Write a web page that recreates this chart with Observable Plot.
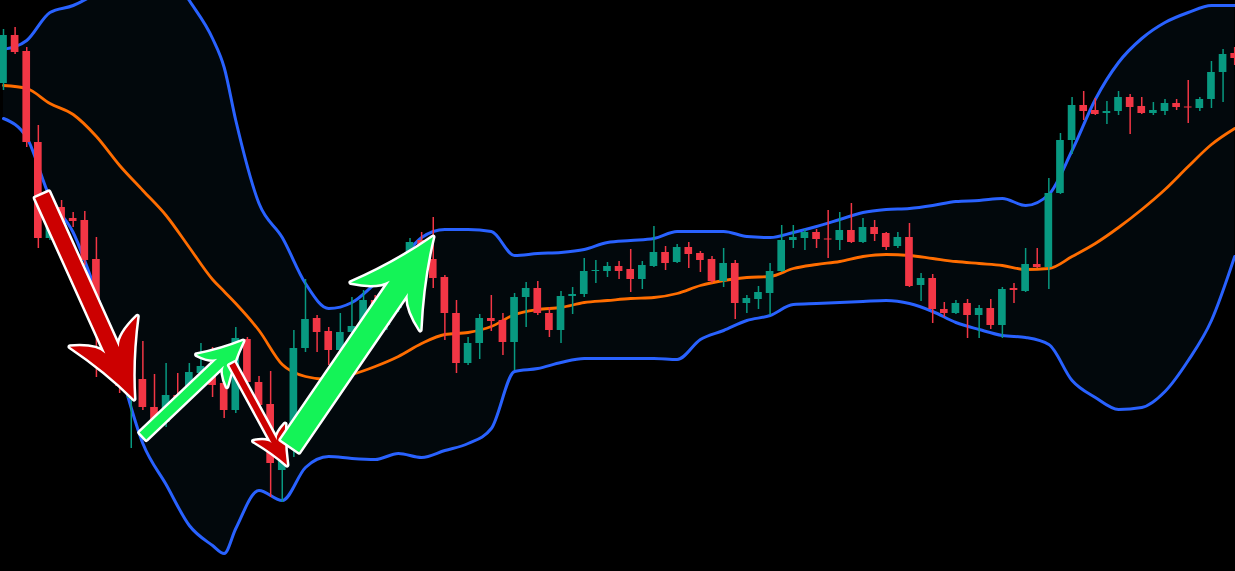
<!DOCTYPE html>
<html><head><meta charset="utf-8">
<script src="https://cdn.jsdelivr.net/npm/d3@7"></script>
<script src="https://cdn.jsdelivr.net/npm/@observablehq/plot@0.6"></script>
<style>html,body{margin:0;padding:0;background:#000;overflow:hidden;} #chart svg{display:block;}</style>
</head><body><div id="chart"></div>
<script>
// Candles (price units)
const opens  = [517,565,549,458,362,393,382,380,341,270,220,202,221,193,178,205,208,227,227,217,190,261,218,196,130,170,252,282,269,250,268,277,300,275,292,315,360,341,323,287,237,257,282,280,258,303,312,287,270,304,306,329,329,334,331,321,334,348,338,353,347,341,319,337,297,301,307,329,360,362,368,361.5,360,370,358,373,367,354,363,315,322,291,287,297,285,292,275,312,309,336,333,407,460,495,490,487,489,503,494,487,489,497,493.5,492,501,528,547];
const closes = [565,548,458,362,387,378,379,340,270,248,214,204,193,173,205,202,228,234,215,190,262,218,195,137,142,252,281,268,250,268,274,300,293,295,315,358,348,322,287,237,257,282,279,258,303,312,287,270,304,306,329,330,334,329,321,335,348,337,353,346,340,319,337,297,302,308,329,360,363,368,361,360.5,370,358,373,366,353,363,314,322,291,287,297,285,292,275,311,310,336,333,407,460,495,489,486,489,503,493,487,490,497,493,492.5,501,528,546,542];
const highs  = [571,573,553,475,392,400,388,389,363,278,235,205,259,226,237,227,237,257,253,240,273,263,224,229,145,270,321,285,273,287,303,310,305,302,318,362,368,383,325,300,263,286,305,287,307,318,319,293,309,313,342,340,338,339,351,339,374,354,356,358,349,344,352,340,305,314,337,375,375,371,371,390,388,397,382,380,368,368,377,327,326,298,300,301,295,301,313,317,352,352,422,467,503,509,502,499,509,506,503,498,501,501,520,503,539,551,553];
const lows   = [510,546,453,352,360,368,373,335,223,228,207,152,190,170,173,201,200,222,203,182,187,215,190,103,98,143,248,248,235,245,260,270,285,270,288,312,338,312,260,227,235,241,269,245,230,273,285,263,257,286,303,317,323,321,308,311,333,330,337,332,328,317,313,281,287,291,285,328,352,350,352,342,350,357,357,359,350,352,313,299,277,283,286,262,262,271,262,297,308,332,311,406,446,480,485,476,485,466,486,485,485,490,477,489,492,498,535];

// Bollinger bands sampled at candle positions
const bandIdx = [0,2,4,6,8,10,12,14,16,18,19,20,22,24,26,28,30,32,34,36,38,40,42,44,46,48,50,52,54,56,58,60,62,64,66,68,70,72,74,76,78,80,82,84,86,88,90,92,94,96,98,100,102,104,106];
const upper  = [551,560,588,595,608,630,645,635,600,562,533,480,397,363,317,292,298,317,338,363,371,371,369,345,347,348,351,358,360,362,369,369,369,364,363,368,374,381,388,391,392,395,399,400,402,395,406,450,501,538,562,578,588,595,595];
const middle = [515,512,497,486,464,435,410,385,353,321,309,297,270,236,224,221,226,234,244,257,266,268,274,286,291,293,298,300,302,303,307,315,320,323,324,332,336,339,344,346,345,342,339,337,335,331,332,344,357,373,391,411,434,456,472];
const lower  = [482,463,403,368,307,232,157,116,75,55,47,72,110,100,133,144,142,141,147,143,150,157,172,229,232,238,242,242,242,242,241,261,270,280,285,296,297,298,299,300,297,289,278,271,265,263,256,220,203,191,193,209,240,280,344];

// Annotation arrows (candle index, price)
const arrowFromIdx   = [3.36, 12.05, 19.72, 24.71];
const arrowFromPrice = [405, 164, 236, 154];
const arrowToIdx     = [11.28, 20.66, 24.45, 37.02];
const arrowToPrice   = [201, 259, 135, 363];

const candles = opens.map((o, i) => ({i, open: o, close: closes[i], high: highs[i], low: lows[i]}));
const ups = candles.filter(d => d.close >= d.open);
const downs = candles.filter(d => d.close < d.open);
const bands = bandIdx.map((x, k) => ({i: x, upper: upper[k], middle: middle[k], lower: lower[k]}));

const GREEN = "#089981", RED = "#f23645";
const half = 0.33;
const curve = "monotone-x";

const plot = Plot.plot({
  width: 1235, height: 571,
  marginTop: 0, marginRight: 0, marginBottom: 0, marginLeft: 0,
  x: {domain: [-0.258, 106.07], axis: null},
  y: {domain: [29, 600], axis: null},
  style: {background: "#000"},
  marks: [
    Plot.areaY(bands, {x: "i", y1: "lower", y2: "upper", fill: "#2196f3", fillOpacity: 0.05, curve, clip: true}),
    Plot.line(bands, {x: "i", y: "middle", stroke: "#ff6d00", strokeWidth: 2.8, curve, clip: true}),
    Plot.line(bands, {x: "i", y: "upper", stroke: "#2962ff", strokeWidth: 3, curve, clip: true}),
    Plot.line(bands, {x: "i", y: "lower", stroke: "#2962ff", strokeWidth: 3, curve, clip: true}),
    Plot.ruleX(ups, {x: "i", y1: "low", y2: "high", stroke: GREEN, strokeWidth: 1.5}),
    Plot.ruleX(downs, {x: "i", y1: "low", y2: "high", stroke: RED, strokeWidth: 1.5}),
    Plot.rect(ups, {x1: d => d.i - half, x2: d => d.i + half, y1: "open", y2: "close", fill: GREEN}),
    Plot.rect(downs, {x1: d => d.i - half, x2: d => d.i + half, y1: "open", y2: "close", fill: RED})
  ]
});
document.getElementById("chart").appendChild(plot);

// Draw the annotation arrows through the plot's own scales
const sx = plot.scale("x"), sy = plot.scale("y");
const arrowLook = [
  {fill: "#cc0000", L: 74, W: 37, w: 7.5},
  {fill: "#14f357", L: 43, W: 22, w: 4.8},
  {fill: "#cc0000", L: 37, W: 18, w: 3},
  {fill: "#14f357", L: 84, W: 42, w: 11}
];
function arrowPath(x1, y1, x2, y2, L, W, w) {
  const dx = x2 - x1, dy = y2 - y1, len = Math.hypot(dx, dy);
  const ux = dx / len, uy = dy / len, nx = -uy, ny = ux;
  const P = (a, b) => [x2 - ux * a + nx * b, y2 - uy * a + ny * b];
  const f = p => p[0].toFixed(1) + "," + p[1].toFixed(1);
  const t1 = [x1 + nx * w, y1 + ny * w], t2 = [x1 - nx * w, y1 - ny * w];
  const n1 = P(L * 0.72, w), n2 = P(L * 0.72, -w);
  const b1 = P(L, W), b2 = P(L, -W);
  const c1 = P(L * 0.88, w * 1.6), c2 = P(L * 0.5, W * 0.38);
  const c3 = P(L * 0.5, -W * 0.38), c4 = P(L * 0.88, -w * 1.6);
  return "M" + f(t1) + "L" + f(n1) + "Q" + f(c1) + " " + f(b1) + "Q" + f(c2) + " " + f([x2, y2]) +
         "Q" + f(c3) + " " + f(b2) + "Q" + f(c4) + " " + f(n2) + "L" + f(t2) + "Z";
}
const g = d3.select(plot).append("g");
arrowFromIdx.forEach((fi, k) => {
  const s = arrowLook[k];
  g.append("path")
    .attr("d", arrowPath(sx.apply(fi), sy.apply(arrowFromPrice[k]), sx.apply(arrowToIdx[k]), sy.apply(arrowToPrice[k]), s.L, s.W, s.w))
    .attr("fill", s.fill)
    .attr("stroke", "#fff")
    .attr("stroke-width", 5)
    .attr("stroke-linejoin", "round")
    .attr("paint-order", "stroke");
});
</script>
</body></html>
